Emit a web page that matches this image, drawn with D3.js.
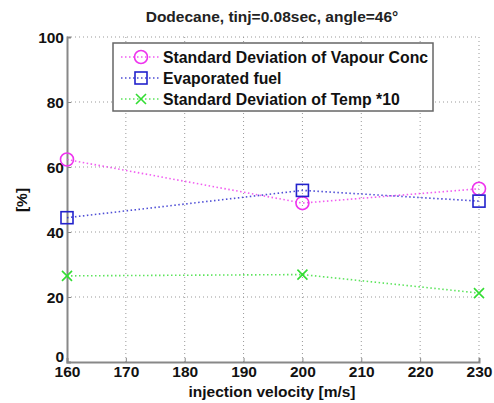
<!DOCTYPE html>
<html>
<head>
<meta charset="utf-8">
<script src="https://cdn.jsdelivr.net/npm/d3@7"></script>
<style>
  body { margin: 0; background: #fff; }
  text { font-family: "Liberation Sans", Arial, sans-serif; }
</style>
</head>
<body>
<div id="chart"></div>
<script>
// values
var velocity = [160, 200, 230]
var vapourStd = [62.3, 48.9, 53.3]
var evapFuel = [44.4, 52.8, 49.5]
var tempStd = [26.5, 26.9, 21.2]
var xTicks = [160, 170, 180, 190, 200, 210, 220, 230]
var yTicks = [0, 20, 40, 60, 80, 100]

var series = [
  {name: "Standard Deviation of Vapour Conc", values: vapourStd, color: "#ee33ee", marker: "circle"},
  {name: "Evaporated fuel", values: evapFuel, color: "#2222cc", marker: "square"},
  {name: "Standard Deviation of Temp *10", values: tempStd, color: "#33dd33", marker: "cross"}
]

var width = 494, height = 403
var margin = {top: 37, right: 15, bottom: 41, left: 67}
var fs = "15.5px"

var svg = d3.select("#chart").append("svg")
  .attr("width", width)
  .attr("height", height)

var x = d3.scaleLinear().domain([160, 230]).range([margin.left, width - margin.right])
var y = d3.scaleLinear().domain([0, 100]).range([height - margin.bottom, margin.top])

// grid
svg.append("g").selectAll("line.vg")
  .data(xTicks.slice(1))
  .enter().append("line")
  .attr("x1", d => x(d)).attr("x2", d => x(d))
  .attr("y1", y(0)).attr("y2", y(100))
  .attr("stroke", "#999").attr("stroke-width", 1)
  .attr("stroke-dasharray", "1,3")
svg.append("g").selectAll("line.hg")
  .data(yTicks.slice(1))
  .enter().append("line")
  .attr("x1", x(160)).attr("x2", x(230))
  .attr("y1", d => y(d)).attr("y2", d => y(d))
  .attr("stroke", "#999").attr("stroke-width", 1)
  .attr("stroke-dasharray", "1,3")

// axes
var xAxis = svg.append("g")
  .attr("transform", `translate(0,${y(0)})`)
  .call(d3.axisBottom(x).tickValues(xTicks).tickSize(-4).tickPadding(7).tickFormat(d3.format("d")))
var yAxis = svg.append("g")
  .attr("transform", `translate(${x(160)},0)`)
  .call(d3.axisLeft(y).tickValues(yTicks).tickSize(-4).tickPadding(3))

;[xAxis, yAxis].forEach(function(a) {
  a.select(".domain").attr("stroke", "#888").attr("stroke-width", 2)
  a.selectAll(".tick line").attr("stroke", "#888")
  a.selectAll(".tick text")
    .attr("fill", "#111")
    .style("font-size", fs)
    .style("font-weight", "bold")
})
xAxis.selectAll(".tick text").attr("dy", "0.5em")
yAxis.selectAll(".tick text").attr("dy", d => d === 0 ? "-0.05em" : "0.35em")

// series lines + markers
var line = d3.line()
  .x((d, i) => x(velocity[i]))
  .y(d => y(d))

function drawMarker(g, type, color, cx, cy) {
  if (type === "circle") {
    g.append("circle").attr("cx", cx).attr("cy", cy).attr("r", 6.5)
      .attr("fill", "none").attr("stroke", color).attr("stroke-width", 1.6)
  } else if (type === "square") {
    g.append("rect").attr("x", cx - 6).attr("y", cy - 6).attr("width", 12).attr("height", 12)
      .attr("fill", "none").attr("stroke", color).attr("stroke-width", 1.6)
  } else {
    g.append("path").attr("d", `M${cx-5},${cy-5}L${cx+5},${cy+5}M${cx-5},${cy+5}L${cx+5},${cy-5}`)
      .attr("stroke", color).attr("stroke-width", 1.6)
  }
}

series.forEach(function(s) {
  svg.append("path")
    .datum(s.values)
    .attr("d", line)
    .attr("fill", "none")
    .attr("stroke", s.color)
    .attr("stroke-width", 1.6)
    .attr("stroke-dasharray", "1.5,2.5")
    .attr("opacity", 0.8)
  var g = svg.append("g")
  s.values.forEach(function(v, i) {
    drawMarker(g, s.marker, s.color, x(velocity[i]), y(v))
  })
})

// legend
var legend = svg.append("g").attr("transform", "translate(113,43)")
legend.append("rect")
  .attr("width", 320).attr("height", 68)
  .attr("fill", "#fff").attr("stroke", "#666").attr("stroke-width", 1.5)
series.forEach(function(s, i) {
  var ly = 14 + i * 21
  legend.append("line")
    .attr("x1", 8).attr("x2", 48).attr("y1", ly).attr("y2", ly)
    .attr("stroke", s.color).attr("stroke-width", 1.5)
    .attr("stroke-dasharray", "1.5,2.5").attr("opacity", 0.8)
  drawMarker(legend, s.marker, s.color, 28, ly)
  legend.append("text")
    .attr("x", 50).attr("y", ly).attr("dy", "0.35em")
    .style("font-size", "15.8px").style("font-weight", "bold")
    .attr("fill", "#111")
    .text(s.name)
})

// titles
svg.append("text")
  .attr("x", 272).attr("y", 22)
  .attr("text-anchor", "middle")
  .style("font-size", fs).style("font-weight", "bold")
  .attr("fill", "#222")
  .text("Dodecane, tinj=0.08sec, angle=46°")

svg.append("text")
  .attr("x", 272).attr("y", 397)
  .attr("text-anchor", "middle")
  .style("font-size", fs).style("font-weight", "bold")
  .attr("fill", "#111")
  .text("injection velocity [m/s]")

svg.append("text")
  .attr("transform", "translate(27,200) rotate(-90)")
  .attr("text-anchor", "middle")
  .style("font-size", fs).style("font-weight", "bold")
  .attr("fill", "#111")
  .text("[%]")
</script>
</body>
</html>
